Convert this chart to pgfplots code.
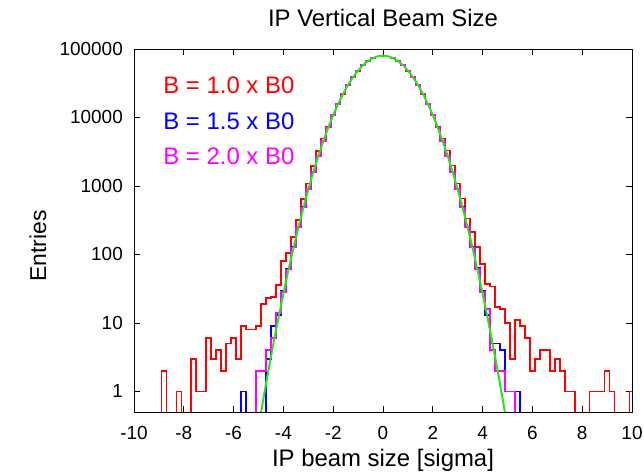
\documentclass[border=0pt]{standalone}
\usepackage{fontspec}
\setmainfont{Liberation Sans}
\usepackage{pgfplots}
\pgfplotsset{compat=1.18}
\definecolor{hred}{RGB}{255,0,0}
\definecolor{hblue}{RGB}{0,0,255}
\definecolor{hmag}{RGB}{255,0,255}
\definecolor{fitgreen}{RGB}{40,230,20}

% histograms: bin centre, entries (0.01 = empty bin, below ymin)
\pgfplotstableread{
x y
-10.2 0.01
-9.0 0.01
-8.8 2
-8.6 0.01
-8.4 0.01
-8.2 1
-8.0 0.01
-7.8 0.01
-7.6 3
-7.4 1
-7.2 1
-7.0 6
-6.8 3
-6.6 4
-6.4 2
-6.2 5
-6.0 6
-5.8 3
-5.6 9
-5.4 8
-5.2 8
-5.0 9
-4.8 19
-4.6 23
-4.4 24
-4.2 36
-4.0 80
-3.8 105
-3.6 180
-3.4 320
-3.2 640
-3.0 1080
-2.8 1950
-2.6 3250
-2.4 4900
-2.2 7400
-2.0 11000
-1.8 15900
-1.6 22200
-1.4 29800
-1.2 38600
-1.0 48000
-0.8 57400
-0.6 66000
-0.4 72900
-0.2 77400
0.0 79000
0.2 77500
0.4 73000
0.6 66100
0.8 57500
1.0 48100
1.2 38700
1.4 29900
1.6 22200
1.8 15900
2.0 11000
2.2 7400
2.4 4900
2.6 3300
2.8 2000
3.0 1090
3.2 657
3.4 335
3.6 214
3.8 129
4.0 72
4.2 37
4.4 34
4.6 17
4.8 16
5.0 10
5.2 3
5.4 11
5.6 9
5.8 6
6.0 2
6.2 3
6.4 4
6.6 4
6.8 2
7.0 3
7.2 2
7.4 1
7.6 1
7.8 0.01
8.2 0.01
8.4 1
8.6 1
8.8 1
9.0 2
9.2 1
9.4 0.01
9.8 0.01
10.0 1
10.2 0.01
}\bone

\pgfplotstableread{
x y
-10.2 0.01
-5.8 0.01
-5.6 1
-5.4 0.01
-4.8 0.01
-4.6 3
-4.4 9
-4.2 13
-4.0 29
-3.8 62
-3.6 128
-3.4 255
-3.2 490
-3.0 900
-2.8 1601
-2.6 2743
-2.4 4514
-2.2 7140
-2.0 10856
-1.8 15850
-1.6 22240
-1.4 29990
-1.2 38870
-1.0 48390
-0.8 57900
-0.6 66580
-0.4 73550
-0.2 78080
0.0 79660
0.2 78080
0.4 73550
0.6 66580
0.8 57900
1.0 48390
1.2 38870
1.4 29990
1.6 22240
1.8 15850
2.0 10856
2.2 7140
2.4 4514
2.6 2743
2.8 1601
3.0 900
3.2 490
3.4 255
3.6 128
3.8 63
4.0 29
4.2 13
4.4 5
4.6 5
4.8 4
5.0 1
5.2 1
5.4 1
5.6 0.01
10.2 0.01
}\bonefive

\pgfplotstableread{
x y
-10.2 0.01
-5.2 0.01
-5.0 2
-4.8 2
-4.6 4
-4.4 6
-4.2 14
-4.0 28
-3.8 60
-3.6 126
-3.4 252
-3.2 487
-3.0 899
-2.8 1601
-2.6 2743
-2.4 4514
-2.2 7140
-2.0 10856
-1.8 15850
-1.6 22240
-1.4 29990
-1.2 38870
-1.0 48390
-0.8 57900
-0.6 66580
-0.4 73550
-0.2 78080
0.0 79660
0.2 78080
0.4 73550
0.6 66580
0.8 57900
1.0 48390
1.2 38870
1.4 29990
1.6 22240
1.8 15850
2.0 10856
2.2 7140
2.4 4514
2.6 2743
2.8 1601
3.0 899
3.2 487
3.4 252
3.6 126
3.8 61
4.0 28
4.2 16
4.4 4
4.6 2
4.8 2
5.0 1
5.2 1
5.4 0.01
10.2 0.01
}\btwo

% gaussian fit
\pgfplotstableread{
x y
-5.0 0.2973
-4.8 0.7922
-4.6 2.028
-4.4 4.988
-4.2 11.79
-4.0 26.77
-3.8 58.40
-3.6 122.4
-3.4 246.4
-3.2 476.8
-3.0 886.4
-2.8 1583
-2.6 2716
-2.4 4479
-2.2 7095
-2.0 10798
-1.8 15790
-1.6 22184
-1.4 29945
-1.2 38837
-1.0 48394
-0.8 57938
-0.6 66645
-0.4 73654
-0.2 78208
0.0 79788
0.2 78208
0.4 73654
0.6 66645
0.8 57938
1.0 48394
1.2 38837
1.4 29945
1.6 22184
1.8 15790
2.0 10798
2.2 7095
2.4 4479
2.6 2716
2.8 1583
3.0 886.4
3.2 476.8
3.4 246.4
3.6 122.4
3.8 58.40
4.0 26.77
4.2 11.79
4.4 4.988
4.6 2.028
4.8 0.7922
5.0 0.2973
}\fit

\begin{document}
\begin{tikzpicture}[x=1bp,y=1bp]
\useasboundingbox (0,0) rectangle (644,472);
\begin{axis}[
  at={(134bp,60bp)}, anchor=south west,
  scale only axis, width=498bp, height=363bp,
  xmin=-10, xmax=10,
  ymode=log, ymin=0.5, ymax=100000,
  xtick={-10,-8,...,10},
  xticklabels={-10,-8,-6,-4,-2,0,2,4,6,8,10},
  ytick={1,10,100,1000,10000,100000},
  yticklabels={1,10,100,1000,10000,100000},
  yminorticks=false, xminorticks=false,
  tick align=inside, major tick length=6bp,
  tick style={black, line width=0.8bp},
  axis line style={line width=0.9bp},
  xticklabel style={font=\fontsize{19}{22}\selectfont, inner sep=0pt, yshift=-14bp},
  yticklabel style={font=\fontsize{19}{22}\selectfont, inner sep=0pt, xshift=-11bp},
]
\addplot[hred, line width=1.6bp, const plot mark mid] table {\bone};
\addplot[hblue, line width=1.6bp, const plot mark mid] table {\bonefive};
\addplot[hmag, line width=1.6bp, const plot mark mid] table {\btwo};
\addplot[fitgreen, line width=2bp, smooth] table {\fit};

\node[anchor=west, text=hred, font=\fontsize{24}{28}\selectfont] at (rel axis cs:0.052,0.901) {B = 1.0 x B0};
\node[anchor=west, text=hblue, font=\fontsize{24}{28}\selectfont] at (rel axis cs:0.052,0.800) {B = 1.5 x B0};
\node[anchor=west, text=hmag, font=\fontsize{24}{28}\selectfont] at (rel axis cs:0.052,0.704) {B = 2.0 x B0};
\end{axis}
\node[anchor=base, font=\fontsize{24}{28}\selectfont] at (383,445) {IP Vertical Beam Size};
\node[anchor=base, font=\fontsize{24}{28}\selectfont] at (383,5) {IP beam size [sigma]};
\node[anchor=base, rotate=90, font=\fontsize{23}{27}\selectfont] at (46,226) {Entries};
\end{tikzpicture}
\end{document}
